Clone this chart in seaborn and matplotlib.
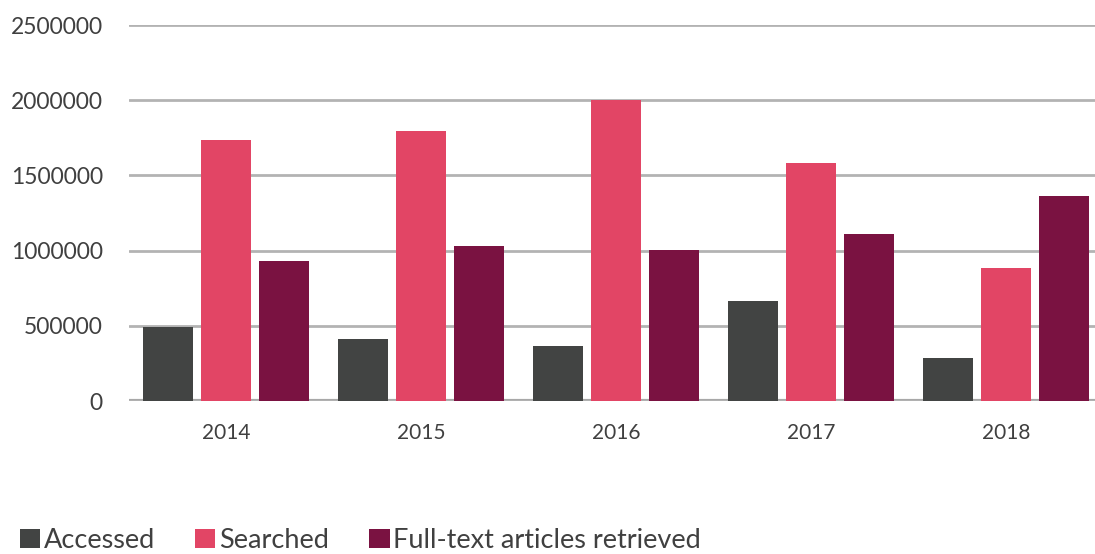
import matplotlib
matplotlib.use("Agg")
import matplotlib.pyplot as plt
import seaborn as sns
import pandas as pd
from matplotlib.patches import Patch

years = ["2014", "2015", "2016", "2017", "2018"]
accessed = [494000, 412000, 366000, 665000, 286000]
searched = [1735000, 1795000, 2000000, 1582000, 884000]
fulltext = [931000, 1031000, 1004000, 1110000, 1363000]
series_names = ["Accessed", "Searched", "Full-text articles retrieved"]
colors = ["#424443", "#E24565", "#7A1241"]
yticks = [0, 500000, 1000000, 1500000, 2000000, 2500000]

rows = []
for name, vals in zip(series_names, [accessed, searched, fulltext]):
    for y, v in zip(years, vals):
        rows.append({"year": y, "series": name, "value": v})
df = pd.DataFrame(rows)

sns.set_theme(style="white")
plt.rcParams['font.family'] = ['Lato', 'DejaVu Sans']

W, H = 1095, 554
fig = plt.figure(figsize=(W / 100, H / 100), dpi=100)
ax = fig.add_axes([128.5 / W, (H - 401) / H, 975 / W, (401 - 25) / H])

sns.barplot(data=df, x="year", y="value", hue="series", hue_order=series_names,
            palette=colors, width=0.892, gap=0.138, ax=ax, legend=False,
            errorbar=None, saturation=1, linewidth=0)

ax.set_ylim(0, 2500000)
ax.set_xlim(-0.5, 4.5)
ax.set_yticks(yticks)
ax.set_yticklabels([str(t) for t in yticks])
ax.yaxis.grid(True, color="#b3b3b3", linewidth=2)
ax.set_axisbelow(True)
for s in ax.spines.values():
    s.set_visible(False)
ax.axhline(0, color="#a8a8a8", linewidth=3, zorder=0.5)
ax.set_xlabel("")
ax.set_ylabel("")
ax.tick_params(axis="y", length=0, pad=18.4, labelsize=16.5, labelcolor="#404040")
ax.tick_params(axis="x", length=0, pad=16, labelsize=15, labelcolor="#404040")

handles = [Patch(facecolor=c, edgecolor="none") for c in colors]
fig.legend(handles, series_names, loc="lower left", bbox_to_anchor=(20 / W, 0.002),
           ncol=3, frameon=False, fontsize=19.5, handlelength=0.74, handleheight=0.74,
           handletextpad=0.13, columnspacing=1.5, borderpad=0, borderaxespad=0,
           labelcolor="#404040")

fig.savefig("out.png", dpi=100, facecolor="white")
